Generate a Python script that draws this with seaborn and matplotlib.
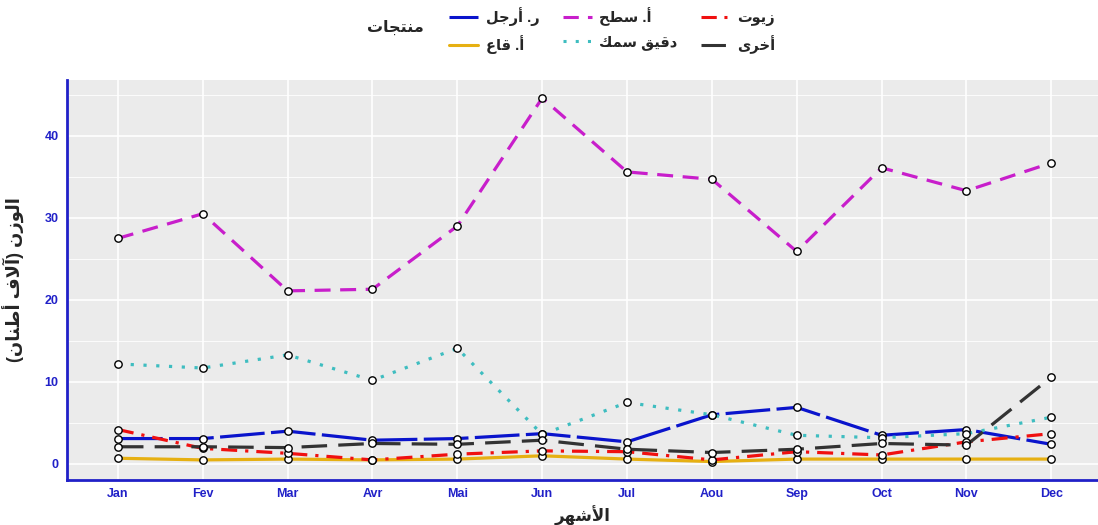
import numpy as np
import pandas as pd
import matplotlib
matplotlib.use("Agg")
import matplotlib.pyplot as plt
from matplotlib.lines import Line2D
import seaborn as sns

# data (thousand tonnes)
months = ["Jan", "Fev", "Mar", "Avr", "Mai", "Jun", "Jul", "Aou", "Sep", "Oct", "Nov", "Dec"]
arjul = [3.1, 3.1, 4.0, 2.9, 3.1, 3.7, 2.7, 6.0, 6.9, 3.5, 4.2, 2.4]
qaa = [0.7, 0.5, 0.6, 0.5, 0.6, 1.0, 0.6, 0.3, 0.6, 0.6, 0.6, 0.6]
sath = [27.5, 30.5, 21.1, 21.3, 29.0, 44.6, 35.6, 34.7, 25.9, 36.1, 33.3, 36.7]
daqiq = [12.2, 11.7, 13.3, 10.2, 14.1, 3.6, 7.5, 6.0, 3.5, 3.2, 3.7, 5.7]
zuyut = [4.2, 1.9, 1.3, 0.5, 1.2, 1.6, 1.5, 0.5, 1.5, 1.1, 2.7, 3.7]
ukhra = [2.1, 2.1, 2.0, 2.5, 2.4, 2.9, 1.8, 1.4, 1.8, 2.5, 2.3, 10.6]

names = ["ر. أرجل", "أ. قاع", "أ. سطح", "دقيق سمك", "زيوت", "أخرى"]
series = [arjul, qaa, sath, daqiq, zuyut, ukhra]
colors = ["#0A14CC", "#E6B012", "#C81ECB", "#3EBDC0", "#F01010", "#333333"]
dashes = [(14, 2), "", (5, 3), (1, 3), (5, 2.5, 1, 2.5), (8, 3.5)]

# matplotlib has no arabic shaping, so map letters to presentation forms by hand
DUAL = {'ت': 0xFE95, 'ج': 0xFE9D, 'ح': 0xFEA1, 'خ': 0xFEA5, 'س': 0xFEB1, 'ش': 0xFEB5,
        'ط': 0xFEC1, 'ع': 0xFEC9, 'ف': 0xFED1, 'ق': 0xFED5, 'ك': 0xFED9, 'ل': 0xFEDD,
        'م': 0xFEE1, 'ن': 0xFEE5, 'ه': 0xFEE9, 'ي': 0xFEF1}
RIGHT = {'ا': 0xFE8D, 'أ': 0xFE83, 'آ': 0xFE81, 'د': 0xFEA9, 'ر': 0xFEAD, 'ز': 0xFEAF,
         'و': 0xFEED, 'ى': 0xFEEF}
LAMALEF = {'آ': 0xFEF5, 'أ': 0xFEF7, 'ا': 0xFEFB}


def ar(s):
    out = []
    i = 0
    while i < len(s):
        c = s[i]
        if c not in DUAL and c not in RIGHT:
            out.append(c)
            i += 1
            continue
        prev = s[i - 1] if i > 0 else ''
        jp = prev in DUAL
        if c == 'ل' and i + 1 < len(s) and s[i + 1] in LAMALEF:
            out.append(chr(LAMALEF[s[i + 1]] + (1 if jp else 0)))
            i += 2
            continue
        nxt = s[i + 1] if i + 1 < len(s) else ''
        if c in DUAL:
            jn = nxt in DUAL or nxt in RIGHT
            k = 3 if (jp and jn) else 1 if jp else 2 if jn else 0
            out.append(chr(DUAL[c] + k))
        else:
            out.append(chr(RIGHT[c] + (1 if jp else 0)))
        i += 1
    return ''.join(out)[::-1].translate(str.maketrans('()', ')('))


rows = []
for n, vals in zip(names, series):
    for j, v in enumerate(vals):
        rows.append({"idx": j, "month": months[j], "product": n, "value": v})
df = pd.DataFrame(rows)

sns.set_theme(style="darkgrid")
plt.rcParams['font.family'] = ['Liberation Sans', 'DejaVu Sans']

fig = plt.figure(figsize=(10.98, 5.25), dpi=100)
ax = fig.add_axes([67 / 1098, 45 / 525, 1031 / 1098, 400 / 525])
ax.set_facecolor("#EBEBEB")

sns.lineplot(data=df, x="idx", y="value", hue="product", style="product",
             hue_order=names, style_order=names,
             palette=dict(zip(names, colors)), dashes=dict(zip(names, dashes)),
             lw=2.3, legend=False, ax=ax, zorder=3)
sns.scatterplot(data=df, x="idx", y="value", color="white", edgecolor="black",
                linewidth=1, s=28, legend=False, ax=ax, zorder=4)

ax.set_xlim(-0.6, 11.55)
ax.set_ylim(-1.95, 46.8)
ax.set_xticks(range(len(months)))
ax.set_xticklabels(months)
ax.set_yticks([0, 10, 20, 30, 40])
ax.set_yticks([5, 15, 25, 35, 45], minor=True)
ax.grid(which="major", color="white", lw=1.2)
ax.grid(which="minor", axis="y", color="white", lw=0.6)

blue = "#2020C8"
for lab in ax.get_xticklabels() + ax.get_yticklabels():
    lab.set_color(blue)
    lab.set_fontweight("bold")
    lab.set_fontsize(9)
ax.tick_params(axis="both", which="major", length=3, color=blue, width=1, pad=3)
ax.tick_params(axis="y", which="minor", length=0)
for side in ["top", "right"]:
    ax.spines[side].set_visible(False)
for side in ["left", "bottom"]:
    ax.spines[side].set_visible(True)
    ax.spines[side].set_color(blue)
    ax.spines[side].set_linewidth(2)

ax.set_xlabel(ar("الأشهر"), fontsize=12, fontweight="bold", labelpad=4)
ax.set_ylabel(ar("الوزن (آلاف أطنان)"), fontsize=13, fontweight="bold", labelpad=14)

handles = [Line2D([], [], color=c, lw=2.2, linestyle=(0, d) if d else "-")
           for c, d in zip(colors, dashes)]
fig.legend(handles, [ar(n) for n in names], ncol=3, loc="upper left",
           bbox_to_anchor=(436 / 1098, 1.012), frameon=False,
           prop={"weight": "bold", "size": 10.5}, handlelength=2.0,
           columnspacing=1.6, labelspacing=0.65, handletextpad=0.5)
fig.text(395 / 1098, 1 - 27 / 525, ar("منتجات"), ha="center", va="center",
         fontsize=11.5, fontweight="bold")

fig.savefig("out.png", dpi=100)
